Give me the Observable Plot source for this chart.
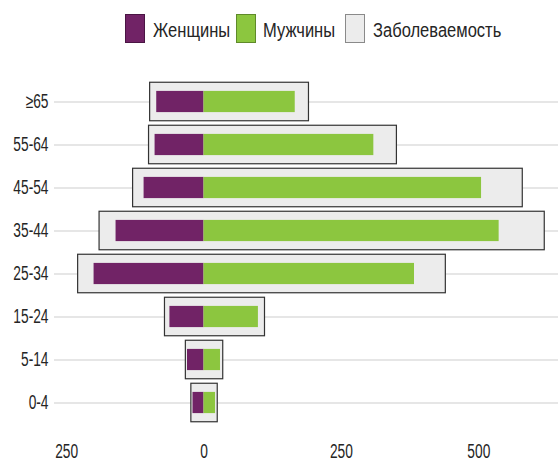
<!DOCTYPE html>
<html><head><meta charset="utf-8">
<script src="https://cdn.jsdelivr.net/npm/d3@7"></script>
<script src="https://cdn.jsdelivr.net/npm/@observablehq/plot@0.6"></script>
<style>
body{margin:0;background:#fff;font-family:"Liberation Sans",Arial,sans-serif;}
#legend{position:relative;height:55px;}
#legend .sw{position:absolute;top:14px;width:20px;height:29px;box-sizing:border-box;}
#legend .lab{position:absolute;top:19.8px;font-size:19px;line-height:19px;color:#252525;white-space:nowrap;transform:scale(0.87,1.08);transform-origin:left center;}
</style></head><body>
<div id="legend"></div>
<div id="chart"></div>
<script>
const ages = ["≥65","55-64","45-54","35-44","25-34","15-24","5-14","0-4"];
const women = [86, 89, 109, 160, 200, 62, 30, 20];
const men = [166, 309, 505, 537, 383, 99, 30, 21];
const incidenceWomen = [98, 100, 129, 190, 229, 71, 33, 23];
const incidenceMen = [191, 351, 580, 620, 440, 111, 35, 25];
const xTicks = [-250, 0, 250, 500];
const seriesNames = ["Женщины", "Мужчины", "Заболеваемость"];
const colors = {women: "#712366", men: "#8cc63f", box: "#ececec"};

const data = ages.map((a, i) => ({age: a, w: women[i], m: men[i], iw: incidenceWomen[i], im: incidenceMen[i]}));

// legend
const legend = document.getElementById("legend");
const legendItems = [
  {fill: colors.women, border: "#4a1544", swX: 125, textX: 153},
  {fill: colors.men, border: "#5f8a2a", swX: 236, textX: 263},
  {fill: colors.box, border: "#8a8a8a", swX: 345, textX: 373}
];
seriesNames.forEach((n, i) => {
  const L = legendItems[i];
  const sw = document.createElement("div"); sw.className = "sw";
  sw.style.left = L.swX + "px";
  sw.style.background = L.fill; sw.style.border = "1px solid " + L.border;
  const t = document.createElement("span"); t.className = "lab"; t.textContent = n;
  t.style.left = L.textX + "px";
  legend.appendChild(sw); legend.appendChild(t);
});

const plot = Plot.plot({
  width: 558, height: 407,
  marginLeft: 54, marginRight: 0, marginTop: 22.75, marginBottom: 36.25,
  style: {fontFamily: "'Liberation Sans',Arial,sans-serif", fontSize: "16px", color: "#252525", overflow: "visible"},
  x: {domain: [-272, 645], ticks: xTicks, tickFormat: d => Math.abs(d), tickSize: 0, tickPadding: 19, label: null},
  y: {type: "band", domain: ages, padding: 0, tickSize: 0, tickPadding: 6, label: null},
  marks: [
    Plot.ruleY(data, {y: "age", stroke: "#dedede", strokeWidth: 1.5}),
    Plot.barX(data, {y: "age", x1: d => -d.iw, x2: d => d.im, fill: colors.box, stroke: "#333", strokeWidth: 1.2, insetTop: 2.25, insetBottom: 2.25}),
    Plot.barX(data, {y: "age", x1: d => -d.w, x2: 0, fill: colors.women, insetTop: 10.9, insetBottom: 10.9}),
    Plot.barX(data, {y: "age", x1: 0, x2: d => d.m, fill: colors.men, insetTop: 10.9, insetBottom: 10.9}),
    Plot.ruleX(data, {y: "age", x: 0, stroke: "#444", strokeWidth: 1.2, insetTop: 2.25, insetBottom: 2.25})
  ]
});
document.getElementById("chart").appendChild(plot);

// condensed, taller tick text to match the reference typeface
const sx = 0.86, sy = 1.22;
plot.querySelectorAll("g[aria-label='y-axis tick label'] text, g[aria-label='x-axis tick label'] text").forEach(t => {
  const isY = t.closest("g[aria-label='y-axis tick label']") !== null;
  const b = t.getBBox();
  const ax = isY ? b.x + b.width : b.x + b.width / 2;
  const ay = b.y + b.height / 2;
  const T = t.getAttribute("transform") || "";
  t.setAttribute("transform", `${T} translate(${ax},${ay}) scale(${sx},${sy}) translate(${-ax},${-ay})`);
});
</script>
</body></html>
